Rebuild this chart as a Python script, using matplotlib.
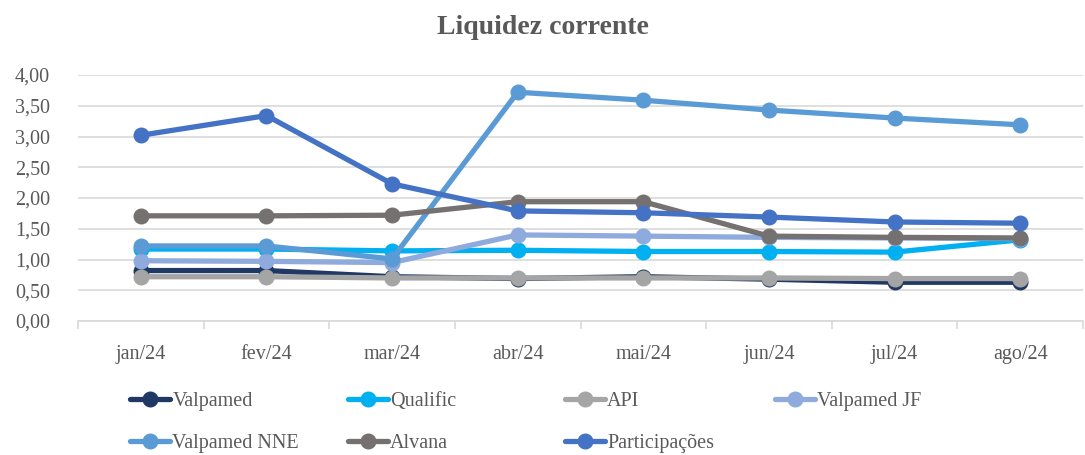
import matplotlib.pyplot as plt
import numpy as np

plt.rcParams['font.family'] = ['Liberation Serif', 'DejaVu Serif']

# Data
months = ['jan/24', 'fev/24', 'mar/24', 'abr/24', 'mai/24', 'jun/24', 'jul/24', 'ago/24']

valpamed = [0.82, 0.82, 0.72, 0.69, 0.72, 0.68, 0.63, 0.63]
qualific = [1.17, 1.17, 1.14, 1.15, 1.13, 1.13, 1.12, 1.32]
api = [0.72, 0.72, 0.70, 0.70, 0.70, 0.70, 0.69, 0.69]
valpamed_jf = [0.98, 0.97, 0.95, 1.40, 1.38, 1.36, 1.35, 1.34]
valpamed_nne = [1.22, 1.22, 1.01, 3.72, 3.59, 3.43, 3.30, 3.19]
alvana = [1.71, 1.71, 1.72, 1.94, 1.94, 1.38, 1.36, 1.35]
participacoes = [3.02, 3.34, 2.23, 1.79, 1.76, 1.69, 1.61, 1.59]

names = ['Valpamed', 'Qualific', 'API', 'Valpamed JF', 'Valpamed NNE', 'Alvana', 'Participações']
series = [valpamed, qualific, api, valpamed_jf, valpamed_nne, alvana, participacoes]
colors = ['#1F3864', '#00B0F0', '#A5A5A5', '#8FAADC', '#5B9BD5', '#767171', '#4472C4']

fig = plt.figure(figsize=(10.85, 4.55), dpi=100)
ax = fig.add_axes([78 / 1085, 1 - 321 / 455, (1083 - 78) / 1085, (321 - 75) / 455])

x = np.arange(len(months))
handles = {}
for name, vals, c in zip(names, series, colors):
    h, = ax.plot(x, vals, color=c, lw=3.8, marker='o', ms=10.5,
                 solid_capstyle='round', label=name)
    handles[name] = h

ax.set_xlim(-0.5, len(months) - 0.5)
ax.set_ylim(0, 4)
ax.set_yticks(np.arange(0, 4.01, 0.5))
ax.set_yticklabels([f'{v:.2f}'.replace('.', ',') for v in np.arange(0, 4.01, 0.5)])
ax.set_xticks(x)
ax.set_xticklabels(months)
# small category separators under the axis
ax.set_xticks(np.arange(-0.5, len(months), 1), minor=True)
ax.tick_params(axis='x', which='minor', length=6, width=1.2, color='#D9D9D9')
ax.yaxis.grid(True, color='#D9D9D9', lw=1.2)
ax.set_axisbelow(True)
for s in ['top', 'right', 'left']:
    ax.spines[s].set_visible(False)
ax.spines['bottom'].set_color('#D9D9D9')
ax.spines['bottom'].set_linewidth(1.2)
ax.tick_params(axis='both', which='major', length=0, labelsize=14.5, colors='#595959')
ax.tick_params(axis='y', pad=20)
ax.tick_params(axis='x', which='major', pad=17)

fig.text(0.5, 1 - 27 / 455, 'Liquidez corrente', ha='center', va='center',
         fontsize=20, fontweight='bold', color='#595959')

# legend laid out in four columns like the original
cols = [(130, ['Valpamed', 'Valpamed NNE']),
        (348, ['Qualific', 'Alvana']),
        (565, ['API', 'Participações']),
        (775, ['Valpamed JF'])]
for xp, labs in cols:
    fig.legend([handles[l] for l in labs], labs, loc='upper left',
               bbox_to_anchor=(xp / 1085, 1 - 392 / 455), frameon=False,
               fontsize=14.5, handlelength=2.0, handletextpad=0.1,
               labelspacing=1.15, borderaxespad=0, borderpad=0,
               labelcolor='#595959')

fig.savefig('out.png', dpi=100)
